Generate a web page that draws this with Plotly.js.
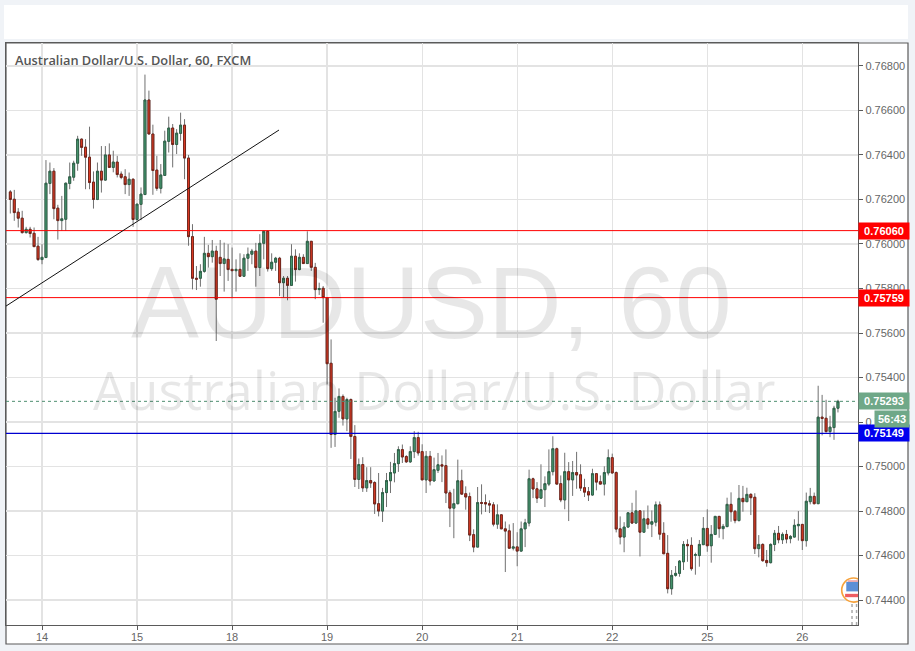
<!DOCTYPE html>
<html>
<head>
<meta charset="utf-8">
<script src="https://cdn.plot.ly/plotly-3.0.1.min.js"></script>
<style>
html,body{margin:0;padding:0;width:915px;height:651px;overflow:hidden;background:#f0f3f7}
#chart{width:915px;height:651px}
</style>
</head>
<body>
<div id="chart"></div>
<script>
// Prices are in units of 0.00001
var opens = [76234,76201,76143,76116,76051,76066,76048,75990,75930,75939,76272,76327,76161,76105,76111,76272,76300,76363,76471,76435,76390,76278,76200,76327,76287,76400,76344,76368,76314,76302,76267,76291,76110,76178,76222,76647,76494,76332,76250,76308,76461,76521,76447,76497,76534,76386,76033,75846,75846,75877,75958,75943,75968,75940,75912,75931,75886,75880,75886,75855,75936,75954,75968,75894,76003,76057,75889,75918,75936,75826,75846,75814,75945,75885,75940,75912,76012,75895,75795,75801,75759,75464,75144,75248,75315,75214,75301,75135,74942,75009,74904,74937,74928,74833,74800,74883,74936,74971,75013,75076,75045,75021,75067,75130,75067,74940,75046,74935,74983,75008,75004,74882,74813,74833,74936,74878,74865,74694,74638,74838,74838,74833,74828,74741,74783,74720,74711,74633,74639,74620,74720,74746,74945,74900,74858,74896,74921,74977,75080,74923,74850,74977,74940,74973,74963,74905,74887,74872,74968,74932,74921,74971,75040,74973,74720,74683,74728,74792,74746,74801,74705,74765,74741,74750,74828,74700,74610,74451,74511,74520,74572,74650,74646,74601,74600,74649,74722,74644,74695,74776,74721,74730,74830,74799,74757,74857,74842,74875,74862,74631,74650,74578,74568,74650,74700,74671,74695,74676,74683,74734,74740,74667,74842,74866,74833,75222,75217,75157,75175,75262];
var highs = [76242,76243,76161,76149,76077,76077,76074,76032,75999,76377,76366,76341,76176,76216,76276,76366,76374,76486,76474,76471,76527,76326,76366,76440,76440,76452,76419,76396,76326,76336,76321,76294,76179,76254,76761,76689,76536,76396,76359,76509,76572,76539,76516,76590,76561,76400,76089,75901,75909,76032,75996,76018,75992,76018,76006,75999,75984,75931,75958,75954,75984,75978,76005,76044,76060,76060,75958,75942,75942,75856,75856,75999,75976,75958,75954,76057,76012,75915,75826,75811,75759,75571,75309,75351,75324,75309,75306,75186,75036,75042,74997,74997,74934,74971,74904,74971,75021,75061,75091,75099,75051,75091,75159,75156,75100,75070,75070,75040,75061,75050,75077,74893,74900,75031,74986,74911,74883,74718,74908,74920,74875,74848,74840,74830,74785,74753,74740,74746,74705,74753,74765,74986,74950,74930,75010,74956,75077,75136,75085,74960,75062,75020,75025,75066,75010,74945,74908,74990,74971,74960,75001,75077,75058,74978,74776,74750,74795,74837,74893,74803,74803,74825,74803,74843,74843,74750,74692,74535,74553,74580,74665,74673,74682,74613,74670,74773,74808,74737,74778,74778,74742,74860,74884,74805,74917,74913,74905,74880,74880,74692,74655,74625,74655,74715,74733,74704,74715,74692,74763,74800,74742,74883,74904,74883,75363,75322,75300,75228,75273,75300];
var lows = [76137,76104,76074,76047,76047,76029,75988,75924,75909,75939,76224,76111,76020,76059,76059,76246,76284,76329,76396,76246,76246,76159,76197,76231,76284,76344,76322,76299,76291,76224,76216,76077,76104,76107,76221,76494,76221,76239,76227,76306,76411,76344,76404,76464,76291,75992,75796,75793,75808,75871,75894,75916,75564,75856,75786,75834,75756,75786,75852,75852,75879,75909,75808,75856,75931,75876,75879,75879,75766,75759,75747,75811,75831,75882,75912,75912,75879,75752,75771,75646,75369,75084,75088,75219,75184,75159,75034,74908,74899,74886,74886,74904,74787,74776,74751,74818,74881,74929,74976,75016,75016,75016,75038,75049,74940,74881,74915,74935,74971,74930,74836,74728,74678,74830,74875,74806,74665,74615,74638,74785,74796,74791,74731,74720,74720,74526,74633,74623,74552,74618,74638,74731,74858,74836,74855,74818,74912,74960,74920,74840,74808,74755,74868,74900,74890,74863,74845,74869,74893,74920,74870,74960,74968,74704,74650,74615,74725,74743,74743,74596,74705,74720,74683,74731,74671,74608,74430,74424,74505,74505,74535,74572,74532,74514,74550,74649,74617,74568,74692,74680,74673,74730,74752,74745,74754,74797,74842,74782,74607,74592,74572,74550,74565,74620,74655,74652,74655,74655,74682,74667,74625,74640,74830,74830,74832,75140,75153,75132,75120,75243];
var closes = [76200,76141,76116,76051,76066,76047,75988,75930,75940,76273,76327,76159,76105,76113,76273,76302,76363,76471,76434,76390,76276,76200,76327,76287,76400,76344,76368,76312,76299,76267,76291,76110,76179,76224,76647,76494,76330,76250,76310,76462,76521,76447,76498,76534,76386,76033,75846,75842,75877,75958,75943,75968,75752,75912,75933,75885,75880,75886,75855,75936,75954,75968,75894,76003,76057,75889,75918,75936,75826,75846,75814,75945,75885,75940,75912,76012,75895,75795,75800,75759,75462,75144,75248,75315,75214,75301,75135,74942,75009,74904,74937,74926,74832,74800,74883,74937,74973,75013,75076,75043,75021,75067,75130,75061,74940,75046,74935,74986,75008,75002,74881,74813,74833,74936,74876,74863,74692,74638,74838,74835,74832,74827,74741,74783,74720,74710,74633,74639,74620,74720,74747,74945,74899,74858,74896,74923,74977,75080,74921,74850,74977,74940,74973,74962,74903,74885,74872,74968,74930,74921,74973,75040,74971,74719,74683,74728,74792,74746,74801,74705,74765,74741,74752,74828,74696,74608,74451,74511,74520,74575,74650,74644,74541,74604,74650,74722,74644,74695,74776,74721,74731,74830,74797,74757,74857,74842,74875,74860,74631,74650,74577,74568,74650,74700,74671,74695,74674,74686,74736,74740,74667,74844,74866,74833,75222,75216,75157,75177,75262,75293];
var yTickValues = [0.744,0.746,0.748,0.75,0.752,0.754,0.756,0.758,0.76,0.762,0.764,0.766,0.768];
var xTickBars = [8,32,56,80,104,128,152,176,200];
var xTickLabels = ["14","15","18","19","20","21","22","25","26"];
var chartTitle = "Australian Dollar/U.S. Dollar, 60, FXCM";
var watermarkSymbol = "AUDUSD, 60";
var watermarkName = "Australian Dollar/U.S. Dollar";
var resistanceHigh = 0.7606, resistanceLow = 0.75759, support = 0.75149, lastPrice = 0.75293;
var countdown = "56:43";

var O = opens.map(function(v){return v/1e5;});
var H = highs.map(function(v){return v/1e5;});
var L = lows.map(function(v){return v/1e5;});
var C = closes.map(function(v){return v/1e5;});
var bars = O.map(function(_,i){return i;});
var bodyTop = O.map(function(v,i){return Math.max(v,C[i]);});
var bodyBot = O.map(function(v,i){return Math.min(v,C[i]);});

var wicks = {type:'candlestick',x:bars,open:O,high:H,low:L,close:C,whiskerwidth:0,hoverinfo:'skip',showlegend:false,
  increasing:{line:{color:'#707070',width:1},fillcolor:'#707070'},
  decreasing:{line:{color:'#707070',width:1},fillcolor:'#707070'}};
var bodies = {type:'candlestick',x:bars,open:O,high:bodyTop,low:bodyBot,close:C,whiskerwidth:0,hoverinfo:'skip',showlegend:false,
  increasing:{line:{color:'#2a5f45',width:0.9},fillcolor:'#4a9a72'},
  decreasing:{line:{color:'#6e2016',width:0.9},fillcolor:'#e03c25'}};

function xp(px){return (px-6)/852;}
function yp(py){return (625-py)/582;}
function hline(y,color,width,dash){
  return {type:'line',xref:'paper',x0:0,x1:1,yref:'y',y0:y,y1:y,line:{color:color,width:width,dash:dash||'solid'}};
}
var shapes = [
  {type:'rect',xref:'paper',yref:'paper',x0:xp(4),x1:xp(908),y0:yp(39),y1:yp(5),fillcolor:'#ffffff',line:{width:0},layer:'below'},
  {type:'rect',xref:'paper',yref:'paper',x0:xp(6),x1:xp(908),y0:yp(644),y1:yp(43),fillcolor:'#ffffff',line:{color:'#5a5a5a',width:1.2},layer:'below'},
  hline(resistanceHigh,'#ff0000',1),
  hline(resistanceLow,'#ff0000',1),
  hline(support,'#0000d0',1.1),
  hline(lastPrice,'#4f8f70',1,'dot'),
  {type:'line',xref:'x',yref:'y',x0:-1.09,x1:67.85,y0:0.75721,y1:0.76512,line:{color:'#111111',width:1}},
  // event flag marker
  {type:'line',xref:'x',yref:'paper',x0:212.55,x1:212.55,y0:0,y1:0.04,line:{color:'#aaaaaa',width:1.5,dash:'dot'}},
  {type:'line',xref:'x',yref:'paper',x0:213.7,x1:213.7,y0:0,y1:0.04,line:{color:'#aaaaaa',width:1.5,dash:'dot'}},
  {type:'circle',xref:'x',yref:'y',x0:209.95,x1:216,y0:0.74391,y1:0.74499,fillcolor:'#ffffff',line:{color:'#f6a23c',width:1.6}},
  {type:'rect',xref:'x',yref:'y',x0:210.8,x1:215,y0:0.74413,y1:0.74428,fillcolor:'#ee5d63',line:{width:0}},
  {type:'rect',xref:'x',yref:'y',x0:211.1,x1:215,y0:0.74439,y1:0.74482,fillcolor:'#5c8fd6',line:{width:0}},
  {type:'rect',xref:'x',yref:'y',x0:211.5,x1:215,y0:0.74482,y1:0.74489,fillcolor:'#ee9a9d',line:{width:0}}
];

function priceBox(y,text,bg){
  return {xref:'paper',x:1,xanchor:'left',yref:'y',y:y,yanchor:'middle',text:text,showarrow:false,
    bgcolor:bg,width:50,height:16,borderpad:0,align:'center',
    font:{family:'Liberation Sans, Arial, sans-serif',size:11,color:'#ffffff',weight:700}};
}
var annotations = [
  {xref:'paper',yref:'paper',x:xp(431.5),y:yp(303),xanchor:'center',yanchor:'middle',showarrow:false,text:watermarkSymbol,
    font:{family:'Liberation Sans, Arial, sans-serif',size:102,color:'rgba(0,0,0,0.095)'}},
  {xref:'paper',yref:'paper',x:xp(433.5),y:yp(389),xanchor:'center',yanchor:'middle',showarrow:false,text:watermarkName,
    font:{family:'Open Sans, sans-serif',size:52.5,color:'rgba(0,0,0,0.095)'}},
  {xref:'paper',yref:'paper',x:xp(13),y:yp(60),xanchor:'left',yanchor:'middle',showarrow:false,text:chartTitle,
    font:{family:'Open Sans, sans-serif',size:12.8,color:'#555555',weight:600}},
  priceBox(resistanceHigh,resistanceHigh.toFixed(5),'#ff0000'),
  priceBox(resistanceLow,resistanceLow.toFixed(5),'#ff0000'),
  priceBox(lastPrice,lastPrice.toFixed(5),'#6fa888'),
  priceBox(support,support.toFixed(5),'#0000ee'),
  {xref:'paper',x:xp(874),xanchor:'left',yref:'paper',y:yp(419),yanchor:'middle',text:countdown,showarrow:false,
    bgcolor:'#6fa888',width:34,height:16,borderpad:0,align:'center',
    font:{family:'Liberation Sans, Arial, sans-serif',size:11,color:'#ffffff',weight:700}}
];

var layout = {
  width:915,height:651,margin:{l:6,r:57,t:43,b:26,pad:0},
  paper_bgcolor:'#f0f3f7',plot_bgcolor:'#ffffff',showlegend:false,
  xaxis:{type:'linear',range:[-1.09,214.06],tickmode:'array',tickvals:xTickBars,ticktext:xTickLabels,
    showgrid:true,gridcolor:'#e3e3e3',gridwidth:1.3,zeroline:false,rangeslider:{visible:false},
    showline:true,linecolor:'#5a5a5a',linewidth:1.2,mirror:true,ticks:'outside',ticklen:4,tickcolor:'#5a5a5a',tickwidth:1,
    ticklabelstandoff:-2,
    tickfont:{family:'Liberation Sans, Arial, sans-serif',size:11,color:'#666666'},fixedrange:true},
  yaxis:{range:[0.74288,0.76903],side:'right',tickmode:'array',tickvals:yTickValues,tickformat:'.5f',
    showgrid:true,gridcolor:'#e3e3e3',gridwidth:1.3,zeroline:false,
    showline:true,linecolor:'#5a5a5a',linewidth:1.2,mirror:true,ticks:'outside',ticklen:4,tickcolor:'#5a5a5a',tickwidth:1,
    tickfont:{family:'Liberation Sans, Arial, sans-serif',size:11,color:'#666666'},fixedrange:true},
  shapes:shapes,annotations:annotations
};
Plotly.newPlot('chart',[wicks,bodies],layout,{displayModeBar:false,staticPlot:true});
</script>
</body>
</html>
